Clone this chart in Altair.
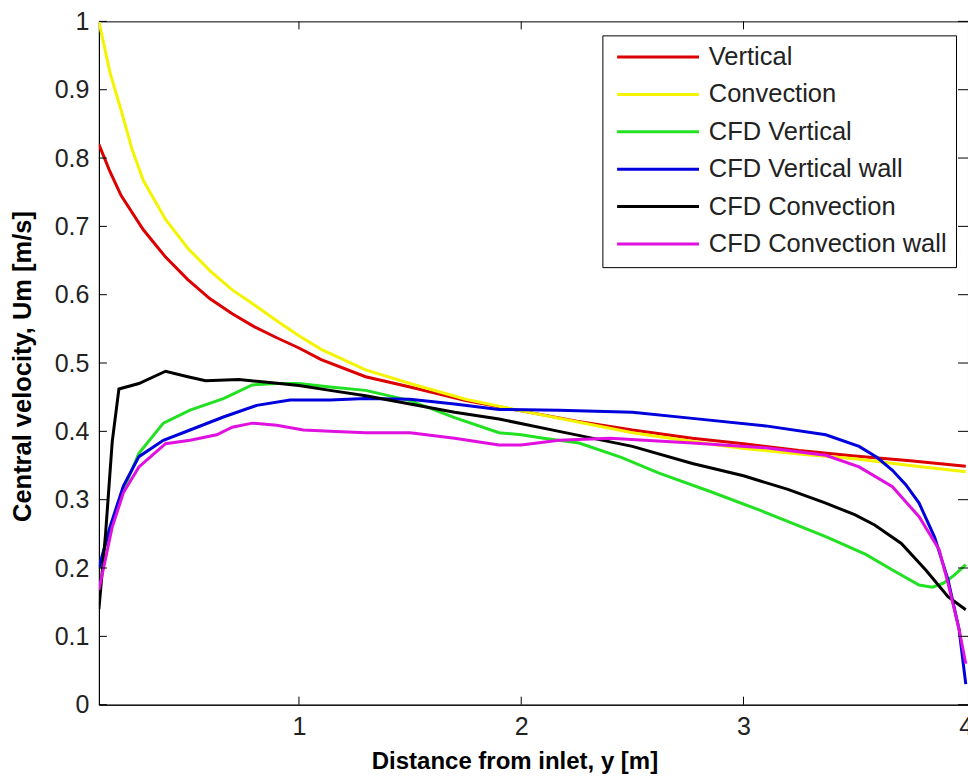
import altair as alt
import pandas as pd

# Series labels and line colours (legend order = drawing order)
series_names = ["Vertical", "Convection", "CFD Vertical", "CFD Vertical wall",
                "CFD Convection", "CFD Convection wall"]
series_colors = ["#dd0000", "#f4f400", "#22e022", "#0000dd", "#000000", "#e010e0"]

# Distance from inlet y [m] and central velocity Um [m/s] for each series
vertical_x = [0.1, 0.15, 0.2, 0.3, 0.4, 0.5, 0.6, 0.7, 0.8, 0.9, 1.0, 1.1, 1.3, 1.5,
              1.75, 2.0, 2.25, 2.5, 2.77, 3.0, 3.25, 3.5, 3.75, 4.0]
vertical_y = [0.82, 0.78, 0.745, 0.695, 0.655, 0.622, 0.594, 0.572, 0.553, 0.537, 0.522,
              0.505, 0.48, 0.465, 0.445, 0.43, 0.415, 0.402, 0.39, 0.382, 0.372, 0.364,
              0.357, 0.349]

convection_x = [0.1, 0.12, 0.15, 0.2, 0.25, 0.3, 0.4, 0.5, 0.6, 0.7, 0.8, 0.9, 1.0, 1.1,
                1.3, 1.5, 1.75, 2.0, 2.25, 2.5, 2.77, 3.0, 3.25, 3.5, 3.75, 4.0]
convection_y = [1.0, 0.97, 0.925, 0.87, 0.812, 0.767, 0.71, 0.668, 0.635, 0.607, 0.585,
                0.562, 0.54, 0.52, 0.49, 0.47, 0.447, 0.43, 0.414, 0.398, 0.385, 0.375,
                0.367, 0.36, 0.35, 0.341]

cfd_vertical_x = [0.1, 0.15, 0.21, 0.28, 0.39, 0.51, 0.66, 0.79, 0.9, 1.0, 1.14, 1.3, 1.5,
                  1.7, 1.9, 2.0, 2.1, 2.26, 2.45, 2.62, 2.85, 3.07, 3.37, 3.55, 3.67, 3.79,
                  3.85, 3.9, 3.95, 4.0]
cfd_vertical_y = [0.2, 0.256, 0.314, 0.368, 0.412, 0.431, 0.448, 0.468, 0.47, 0.47, 0.465,
                  0.46, 0.445, 0.42, 0.398, 0.395, 0.39, 0.383, 0.362, 0.339, 0.312, 0.285,
                  0.246, 0.22, 0.197, 0.175, 0.172, 0.178, 0.19, 0.205]

cfd_vertical_wall_x = [0.1, 0.15, 0.21, 0.28, 0.39, 0.51, 0.66, 0.81, 0.96, 1.14, 1.3, 1.5,
                       1.7, 1.9, 2.17, 2.5, 2.77, 3.1, 3.37, 3.52, 3.6, 3.67, 3.73, 3.79,
                       3.86, 3.92, 3.97, 4.0]
cfd_vertical_wall_y = [0.2, 0.26, 0.32, 0.363, 0.387, 0.402, 0.421, 0.438, 0.446, 0.446,
                       0.448, 0.447, 0.44, 0.432, 0.431, 0.428, 0.419, 0.408, 0.395, 0.378,
                       0.362, 0.343, 0.322, 0.295, 0.245, 0.183, 0.11, 0.03]

cfd_convection_x = [0.1, 0.13, 0.16, 0.19, 0.28, 0.4, 0.5, 0.58, 0.73, 0.88, 1.0, 1.14,
                    1.3, 1.5, 1.7, 1.9, 2.17, 2.5, 2.77, 3.0, 3.2, 3.37, 3.5, 3.59, 3.71,
                    3.82, 3.92, 4.0]
cfd_convection_y = [0.14, 0.25, 0.385, 0.462, 0.47, 0.488, 0.48, 0.474, 0.476, 0.471,
                    0.467, 0.46, 0.452, 0.44, 0.428, 0.418, 0.40, 0.378, 0.353, 0.335,
                    0.315, 0.295, 0.278, 0.263, 0.236, 0.197, 0.158, 0.139]

cfd_convection_wall_x = [0.1, 0.16, 0.21, 0.28, 0.4, 0.51, 0.63, 0.7, 0.79, 0.9, 1.02,
                         1.14, 1.3, 1.5, 1.7, 1.9, 2.0, 2.17, 2.4, 2.77, 3.1, 3.37, 3.52,
                         3.67, 3.79, 3.88, 3.92, 3.97, 4.0]
cfd_convection_wall_y = [0.168, 0.26, 0.31, 0.348, 0.382, 0.387, 0.395, 0.406, 0.412, 0.409,
                         0.402, 0.40, 0.398, 0.398, 0.39, 0.38, 0.38, 0.387, 0.39, 0.383,
                         0.376, 0.365, 0.348, 0.319, 0.275, 0.227, 0.178, 0.11, 0.06]

x_ticks = [1, 2, 3, 4]
x_inner_ticks = [1, 2, 3]
y_ticks = [0, 0.1, 0.2, 0.3, 0.4, 0.5, 0.6, 0.7, 0.8, 0.9, 1]

series_xy = [
    (vertical_x, vertical_y),
    (convection_x, convection_y),
    (cfd_vertical_x, cfd_vertical_y),
    (cfd_vertical_wall_x, cfd_vertical_wall_y),
    (cfd_convection_x, cfd_convection_y),
    (cfd_convection_wall_x, cfd_convection_wall_y),
]

rows = []
for name, (xs, ys) in zip(series_names, series_xy):
    for i, (xv, yv) in enumerate(zip(xs, ys)):
        rows.append({"series": name, "dist": xv, "um": yv, "idx": i})
df = pd.DataFrame(rows)

W, H = 870, 684
FONT = "Liberation Sans"
X_TITLE = "Distance from inlet, y [m]"
Y_TITLE = "Central velocity, Um [m/s]"

x_scale = alt.Scale(domain=[0.1, 4.01], nice=False, zero=False)
y_scale = alt.Scale(domain=[0, 1], nice=False, zero=False)

x_axis = alt.Axis(values=x_ticks, format="d", ticks=False, tickSize=0, labelPadding=10,
                  titleX=416, titleY=64, titleAnchor="start", titleAlign="center",
                  titleBaseline="alphabetic", titleFontSize=24)
y_axis = alt.Axis(values=y_ticks, ticks=False, tickSize=0, labelPadding=10,
                  labelExpr="datum.value == 0 ? '0' : datum.value == 1 ? '1' : format(datum.value, '.1f')",
                  titleAngle=270, titleX=-68, titleY=345, titleAlign="center",
                  titleBaseline="alphabetic", titleFontSize=25.5)

lines = alt.Chart(df).mark_line(strokeWidth=3, clip=True).encode(
    x=alt.X("dist:Q", scale=x_scale, axis=x_axis, title=X_TITLE),
    y=alt.Y("um:Q", scale=y_scale, axis=y_axis, title=Y_TITLE),
    color=alt.Color("series:N",
                    scale=alt.Scale(domain=series_names, range=series_colors),
                    legend=alt.Legend(title=None, orient="none", legendX=504, legendY=14,
                                      symbolType="M-4,0H4", symbolSize=420,
                                      symbolStrokeWidth=3, symbolOffset=34,
                                      labelFontSize=25.5,
                                      labelFont=FONT, labelColor="#222222",
                                      labelOffset=38, labelLimit=400, rowPadding=10.4,
                                      padding=9, strokeColor="#000000",
                                      fillColor="#ffffff")),
    detail="series:N",
    order="idx:Q",
)

# inward-pointing tick marks on all four sides of the box
y_tick_df = pd.DataFrame({"um": y_ticks})
x_tick_df = pd.DataFrame({"dist": x_inner_ticks})
left_ticks = alt.Chart(y_tick_df).mark_rule(color="black", strokeWidth=1).encode(
    y=alt.Y("um:Q", scale=y_scale, axis=y_axis, title=Y_TITLE), x=alt.value(0), x2=alt.value(8))
right_ticks = alt.Chart(y_tick_df).mark_rule(color="black", strokeWidth=1).encode(
    y=alt.Y("um:Q", scale=y_scale, axis=y_axis, title=Y_TITLE), x=alt.value(W - 10), x2=alt.value(W))
bottom_ticks = alt.Chart(x_tick_df).mark_rule(color="black", strokeWidth=1).encode(
    x=alt.X("dist:Q", scale=x_scale, axis=x_axis, title=X_TITLE), y=alt.value(H), y2=alt.value(H - 8))
top_ticks = alt.Chart(x_tick_df).mark_rule(color="black", strokeWidth=1).encode(
    x=alt.X("dist:Q", scale=x_scale, axis=x_axis, title=X_TITLE), y=alt.value(0), y2=alt.value(8))

chart = alt.layer(lines, left_ticks, right_ticks, bottom_ticks, top_ticks).properties(
    width=W, height=H,
    autosize=alt.AutoSizeParams(type="none"),
    padding={"left": 99, "top": 21, "right": 0, "bottom": 73},
    background="white",
).configure_view(
    stroke="#000000", strokeWidth=1
).configure_axis(
    grid=False, domainColor="#000000", domainWidth=1,
    labelFont=FONT, labelFontSize=25, labelColor="#222222",
    titleFont=FONT, titleFontWeight="bold", titleColor="#000000",
)

chart.save("out.html", embed_options={"renderer": "svg", "actions": False})
